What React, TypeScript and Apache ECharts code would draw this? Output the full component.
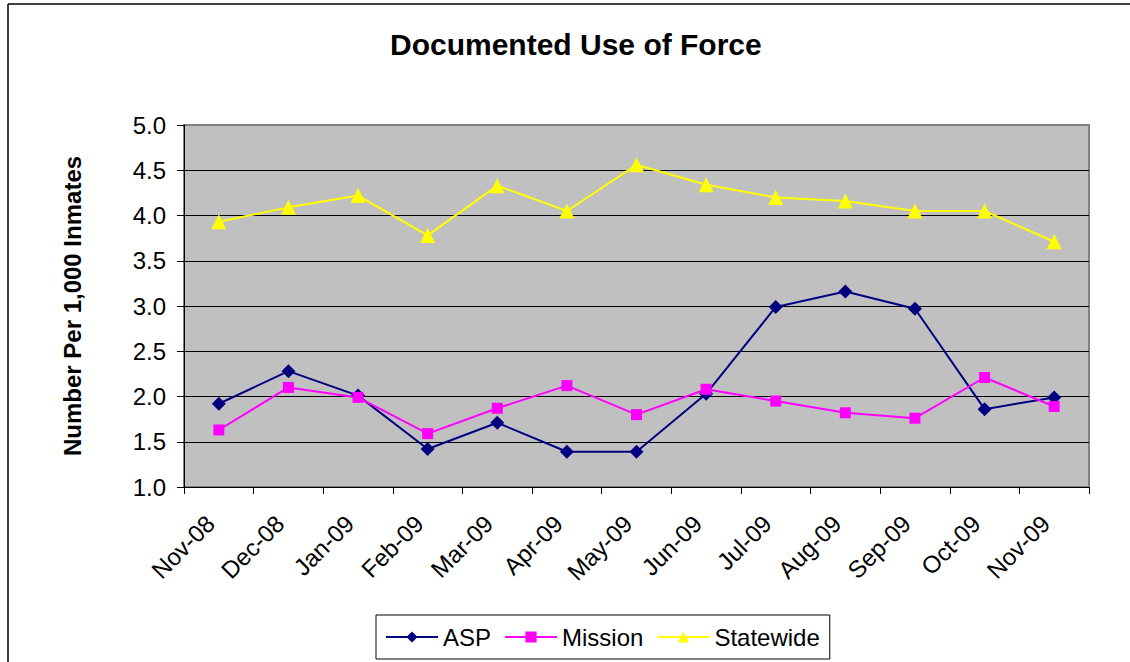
import React, { useEffect, useRef } from "react";
import * as echarts from "echarts";

const categories = ["Nov-08", "Dec-08", "Jan-09", "Feb-09", "Mar-09", "Apr-09", "May-09", "Jun-09", "Jul-09", "Aug-09", "Sep-09", "Oct-09", "Nov-09"];
const aspValues = [1.92, 2.28, 2.01, 1.42, 1.71, 1.39, 1.39, 2.03, 2.99, 3.16, 2.97, 1.86, 1.99];
const missionValues = [1.63, 2.1, 1.99, 1.59, 1.87, 2.12, 1.8, 2.08, 1.95, 1.82, 1.76, 2.21, 1.89];
const statewideValues = [3.93, 4.09, 4.22, 3.78, 4.33, 4.05, 4.56, 4.34, 4.2, 4.16, 4.05, 4.05, 3.71];
const yTicks = { min: 1.0, max: 5.0, interval: 0.5 };
const titleText = "Documented Use of Force";
const yAxisTitle = "Number Per 1,000 Inmates";

const FONT = "'Liberation Sans', Arial, sans-serif";

export default function App() {
  const ref = useRef<HTMLDivElement>(null);
  useEffect(() => {
    if (!ref.current) return;
    const chart = echarts.init(ref.current, undefined, { renderer: "svg" });
    chart.setOption({
      animation: false,
      backgroundColor: "#ffffff",
      textStyle: { fontFamily: FONT },
      title: {
        text: titleText,
        left: 385,
        top: 24,
        textStyle: { fontFamily: FONT, fontSize: 30, fontWeight: "bold", color: "#000" },
      },
      grid: {
        left: 184,
        right: 41,
        top: 125,
        bottom: 175,
        show: true,
        backgroundColor: "#C0C0C0",
        borderColor: "#808080",
        borderWidth: 2,
      },
      legend: {
        left: 376,
        top: 615,
        padding: [10, 10, 10, 9],
        itemGap: 13,
        itemWidth: 52,
        itemHeight: 14,
        borderColor: "#000",
        borderWidth: 1,
        textStyle: { fontFamily: FONT, fontSize: 24, color: "#000" },
        data: ["ASP", "Mission", "Statewide"],
      },
      xAxis: {
        type: "category",
        data: categories,
        boundaryGap: true,
        axisLine: { lineStyle: { color: "#000", width: 1 } },
        axisTick: { show: true, inside: false, length: 7, lineStyle: { color: "#000" } },
        axisLabel: {
          rotate: 45,
          margin: 24,
          padding: [0, 12, 0, 0],
          fontFamily: FONT,
          fontSize: 24,
          color: "#000",
          interval: 0,
        },
        splitLine: { show: false },
      },
      yAxis: {
        type: "value",
        min: yTicks.min,
        max: yTicks.max,
        interval: yTicks.interval,
        name: yAxisTitle,
        nameLocation: "middle",
        nameGap: 100,
        nameTextStyle: { fontFamily: FONT, fontSize: 24, fontWeight: "bold", color: "#000" },
        axisLine: { show: true, lineStyle: { color: "#000", width: 1 } },
        axisTick: { show: true, inside: false, length: 7, lineStyle: { color: "#000" } },
        axisLabel: {
          margin: 18,
          fontFamily: FONT,
          fontSize: 24,
          color: "#000",
          formatter: (v: number) => v.toFixed(1),
        },
        splitLine: { show: true, showMinLine: false, showMaxLine: false, lineStyle: { color: "#000", width: 1 } },
      },
      graphic: [
        { type: "line", shape: { x1: 8, y1: 4, x2: 1130, y2: 4 }, style: { stroke: "#000", lineWidth: 1.5 } },
        { type: "line", shape: { x1: 8, y1: 4, x2: 8, y2: 662 }, style: { stroke: "#000", lineWidth: 1.5 } },
      ],
      series: [
        {
          name: "ASP",
          type: "line",
          data: aspValues,
          symbol: "diamond",
          symbolSize: 14,
          lineStyle: { color: "#000080", width: 2 },
          itemStyle: { color: "#000080" },
        },
        {
          name: "Mission",
          type: "line",
          data: missionValues,
          symbol: "rect",
          symbolSize: 11,
          lineStyle: { color: "#FF00FF", width: 2 },
          itemStyle: { color: "#FF00FF" },
        },
        {
          name: "Statewide",
          type: "line",
          data: statewideValues,
          symbol: "triangle",
          symbolSize: 15,
          lineStyle: { color: "#FFFF00", width: 2 },
          itemStyle: { color: "#FFFF00" },
        },
      ],
    });
    return () => chart.dispose();
  }, []);
  return (
    <div
      ref={ref}
      style={{ position: "absolute", left: 0, top: 0, width: 1130, height: 662 }}
    />
  );
}
